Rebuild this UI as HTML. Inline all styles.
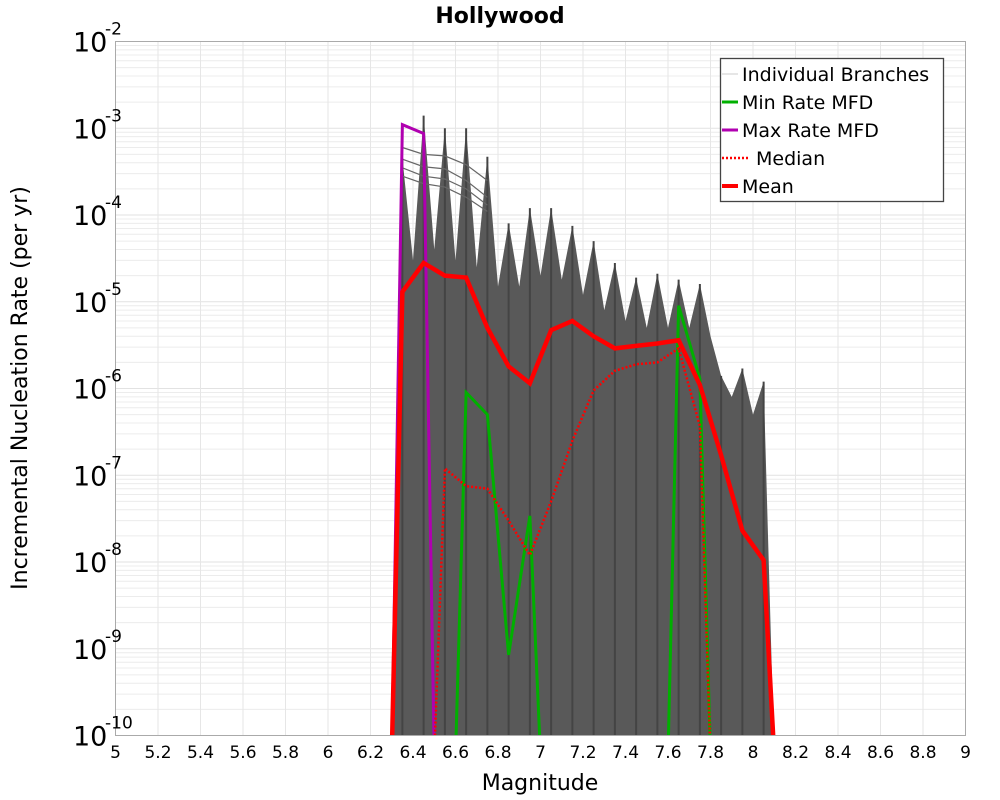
<!DOCTYPE html>
<html><head><meta charset="utf-8">
<style>
html,body{margin:0;padding:0;background:#fff;}
svg{display:block;font-family:"DejaVu Sans","Liberation Sans",sans-serif;}
</style></head>
<body>
<svg id="chart" width="1000" height="800" viewBox="0 0 1000 800" xmlns="http://www.w3.org/2000/svg">
<text x="500" y="23" text-anchor="middle" font-size="22" font-weight="bold">Hollywood</text>
<g id="grid"></g>
<g id="branches"></g>
<g id="series"></g>
<rect x="115.5" y="41.5" width="850" height="694" fill="none" stroke="#aaa" stroke-width="1"/>
<g id="xticks"></g>
<g id="yticks"></g>
<text x="540" y="790" text-anchor="middle" font-size="22">Magnitude</text>
<text transform="translate(27,388) rotate(-90)" text-anchor="middle" font-size="22">Incremental Nucleation Rate (per yr)</text>
<g>
<rect x="720.5" y="58.5" width="223" height="143" fill="#fff" stroke="#444" stroke-width="1.3"/>
<g><line x1="722" y1="74" x2="738" y2="74" stroke="#ccc" stroke-width="1"/><text x="742" y="81" font-size="19">Individual Branches</text></g>
<g><line x1="722" y1="102" x2="738" y2="102" stroke="#00b000" stroke-width="3"/><text x="742" y="109" font-size="19">Min Rate MFD</text></g>
<g><line x1="722" y1="130" x2="738" y2="130" stroke="#b000b0" stroke-width="3"/><text x="742" y="137" font-size="19">Max Rate MFD</text></g>
<g><line x1="722" y1="158" x2="750" y2="158" stroke="#f00" stroke-width="2.5" stroke-dasharray="2,2"/><text x="756" y="165" font-size="19">Median</text></g>
<g><line x1="722" y1="186" x2="738" y2="186" stroke="#f00" stroke-width="4"/><text x="742" y="193" font-size="19">Mean</text></g>
</g>
</svg>
<script>
const mags = [6.35,6.45,6.55,6.65,6.75,6.85,6.95,7.05,7.15,7.25,7.35,7.45,7.55,7.65,7.75,7.85,7.95,8.05];
const meanVals = [1.3e-5,2.8e-5,2e-5,1.9e-5,5e-6,1.8e-6,1.15e-6,4.7e-6,6e-6,4e-6,2.9e-6,3.1e-6,3.3e-6,3.6e-6,1.1e-6,1.7e-7,2.3e-8,1.05e-8];
const medianVals = [null,null,1.2e-7,7.5e-8,7e-8,3e-8,1.2e-8,5e-8,2.5e-7,9.5e-7,1.6e-6,1.9e-6,2e-6,2.9e-6,3.7e-7,null,null,null];
const minVals = [null,null,null,9e-7,5e-7,8.5e-10,3.4e-8,null,null,null,null,null,null,9e-6,1.3e-6,null,null,null];
const maxVals = [1.1e-3,8.7e-4,null,null,null,null,null,null,null,null,null,null,null,null,null,null,null,null];
const branchPeaks = [4.5e-4,1.4e-3,1e-3,1e-3,4.7e-4,8e-5,1.2e-4,1.2e-4,7.5e-5,5e-5,2.8e-5,1.9e-5,2.1e-5,1.8e-5,1.6e-5,1.4e-6,1.7e-6,1.2e-6];
const branchValleys = [3e-5,4e-5,3e-5,2.5e-5,1.5e-5,1.5e-5,2e-5,1.8e-5,1.2e-5,8e-6,6e-6,5e-6,5e-6,5e-6,4e-6,8e-7,5e-7];
const upperBranchA = [4.4e-4,3.6e-4,3.4e-4,2.5e-4,1.6e-4];
const upperBranchB = [3.5e-4,2.8e-4,2.6e-4,2e-4,1.3e-4];
const upperBranchC = [2.8e-4,2.3e-4,2.1e-4,1.6e-4,1.1e-4];
const upperBranchD = [6e-4,5e-4,4.8e-4,3.8e-4,2.5e-4];
const xTicks = [5,5.2,5.4,5.6,5.8,6,6.2,6.4,6.6,6.8,7,7.2,7.4,7.6,7.8,8,8.2,8.4,8.6,8.8,9];
const yDecades = [-2,-3,-4,-5,-6,-7,-8,-9,-10];

const NS='http://www.w3.org/2000/svg';
const X0=115.5,X1=965.5,Y0=41.5,Y1=735.5;
const xs=m=>X0+(m-5)/4*(X1-X0);
const ys=v=>Y0+(-2-Math.log10(v))/8*(Y1-Y0);
const BOT=Y1+20;
function mk(tag,attrs,parent){const e=document.createElementNS(NS,tag);for(const k in attrs)e.setAttribute(k,attrs[k]);parent.appendChild(e);return e;}
const grid=document.getElementById('grid');
for(let d=-10;d<-2;d++){for(let k=1;k<10;k++){const y=ys(k*Math.pow(10,d));
const l=mk('line',{x1:X0,x2:X1,y1:y,y2:y,stroke:k==1?'#e2e2e2':'#ececec','stroke-width':1},grid);
}}
xTicks.forEach(t=>{const l=mk('line',{x1:xs(t),x2:xs(t),y1:Y0,y2:Y1,stroke:'#e6e6e6','stroke-width':1},grid);
});
// clip
const defs=mk('defs',{},document.getElementById('chart'));
const cp=mk('clipPath',{id:'pc'},defs);mk('rect',{x:X0,y:Y0,width:X1-X0,height:Y1-Y0},cp);
const br=document.getElementById('branches');br.setAttribute('clip-path','url(#pc)');
// dense envelope
let pts=[[xs(6.3),BOT]];
mags.forEach((m,i)=>{pts.push([xs(m),ys(branchPeaks[i])]);if(i<branchValleys.length)pts.push([xs(m+0.05),ys(branchValleys[i])]);});
pts.push([xs(8.1),BOT]);
const env=mk('polygon',{points:pts.map(p=>p.join(',')).join(' '),fill:'#595959'},br);

// thin spikes
mags.forEach((m,i)=>{const l=mk('line',{x1:xs(m),x2:xs(m),y1:ys(branchPeaks[i]),y2:BOT,stroke:'#444','stroke-width':2},br);
});
[upperBranchA,upperBranchB,upperBranchC,upperBranchD].forEach(arr=>{
const l=mk('polyline',{points:arr.map((v,i)=>xs(mags[i])+','+ys(v)).join(' '),fill:'none',stroke:'#666','stroke-width':1.2},br);
});
// series
const sg=document.getElementById('series');sg.setAttribute('clip-path','url(#pc)');
function seriesPath(vals){let segs=[],cur=[];vals.forEach((v,i)=>{if(v==null){if(cur.length){segs.push(cur);cur=[];}return;}
if(!cur.length&&(i==0||vals[i-1]==null))cur.push([xs(mags[i]-0.05),BOT]);cur.push([xs(mags[i]),ys(v)]);
if(i==vals.length-1||vals[i+1]==null)cur.push([xs(mags[i]+0.05),BOT]);});if(cur.length)segs.push(cur);
return segs.map(s=>'M'+s.map(p=>p.join(',')).join('L')).join(' ');}
function addSeries(vals,name,attrs){const p=mk('path',Object.assign({d:seriesPath(vals),fill:'none','stroke-linejoin':'miter'},attrs),sg);
}
addSeries(minVals,'min-rate-line',{stroke:'#00b000','stroke-width':3});
addSeries(maxVals,'max-rate-line',{stroke:'#b000b0','stroke-width':3});
addSeries(medianVals,'median-line',{stroke:'#f00','stroke-width':2.5,'stroke-dasharray':'2,2'});
addSeries(meanVals,'mean-line',{stroke:'#f00','stroke-width':4.5});
// ticks
const xt=document.getElementById('xticks');
xTicks.forEach(t=>{const e=mk('text',{x:xs(t),y:758,'text-anchor':'middle','font-size':17},xt);e.textContent=String(t);
});
const yt=document.getElementById('yticks');
yDecades.forEach(d=>{const y=ys(Math.pow(10,d));const g=mk('g',{},yt);

const a=mk('text',{x:73,y:y+10,'font-size':27},g);a.textContent='10';
const b=mk('text',{x:105,y:y-7,'font-size':17},g);b.textContent=String(d);});
</script>
</body></html>
